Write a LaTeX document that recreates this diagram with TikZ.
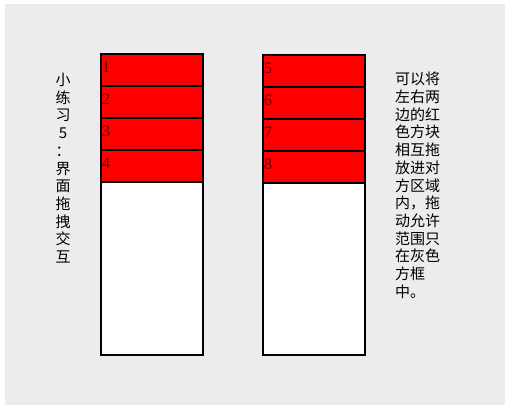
\documentclass[tikz,border=0pt]{standalone}
\usepackage{fontspec}
\setmainfont{Liberation Serif}
\newfontfamily\cjk{Noto Sans CJK SC}
\usetikzlibrary{positioning}
\definecolor{PanelGray}{RGB}{236,236,236}
\definecolor{BlockRed}{RGB}{255,0,0}
\definecolor{NumDark}{RGB}{90,0,0}

\begin{document}
\begin{tikzpicture}[x=1pt,y=-1pt,
  num/.style={anchor=base west,inner sep=0pt,NumDark,font=\fontsize{16}{16}\selectfont},
  note/.style={anchor=north,inner sep=0pt,font=\cjk\fontsize{15}{17.7}\selectfont}]
\useasboundingbox (0,0) rectangle (511,405);
\fill[PanelGray] (5,4) rectangle (505,405);
% drop zones
\draw[line width=1.2pt,fill=white] (101,54) rectangle (203,355);
\draw[line width=1.2pt,fill=white] (263,55) rectangle (365,355);
% red blocks
\foreach \i in {1,...,4} {
  \draw[line width=2pt,fill=BlockRed] (101,{54+32*(\i-1)}) rectangle (203,{54+32*\i});
  \node[num] (n\i) at (102,{72+32*(\i-1)}) {\i};
}
\foreach \i in {5,...,8} {
  \draw[line width=2pt,fill=BlockRed] (263,{55+32*(\i-5)}) rectangle (365,{55+32*(\i-4)});
  \node[num] (n\i) at (264,{73+32*(\i-5)}) {\i};
}
\node[note,align=center] (title) at (63,73) {小\\练\\习\\5\\：\\界\\面\\拖\\拽\\交\\互};
\node[note,align=left,anchor=north west] (hint) at (395,72) {可以将\\左右两\\边的红\\色方块\\相互拖\\放进对\\方区域\\内，拖\\动允许\\范围只\\在灰色\\方框\\中。};
\end{tikzpicture}
\end{document}
